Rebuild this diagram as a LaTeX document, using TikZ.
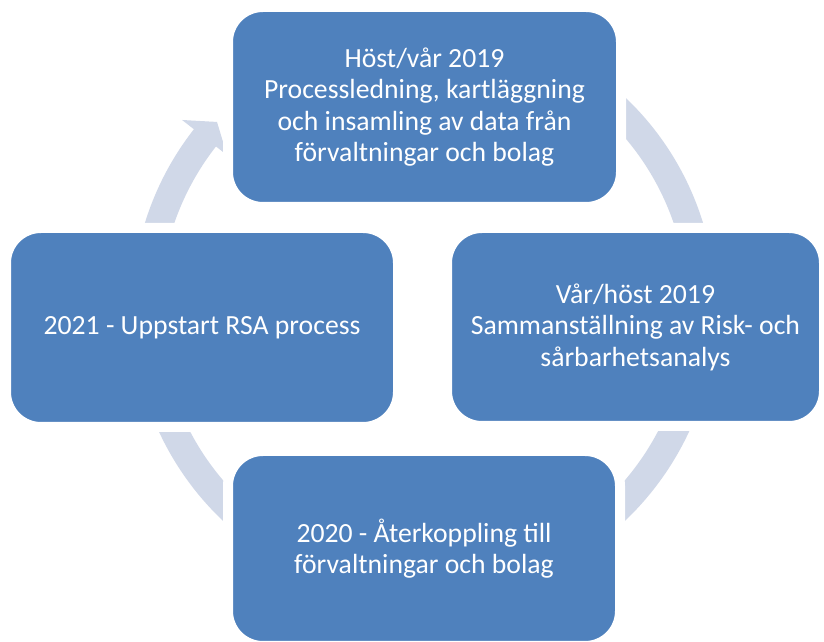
\documentclass[tikz,border=0pt]{standalone}
\usepackage{fontspec}
\setmainfont{Carlito}
\usetikzlibrary{calc}
\definecolor{boxblue}{HTML}{4F81BD}
\definecolor{ringcol}{HTML}{D0D8E8}
\tikzset{stagebox/.style={rectangle, rounded corners=35pt, fill=boxblue, draw=white, line width=10pt, text=white, align=center, inner sep=0pt, font=\fontsize{27.7}{31.5}\selectfont}}
\begin{document}
\begin{tikzpicture}[x=1pt,y=1pt]
\useasboundingbox (0,0) rectangle (824,642);
\fill[white] (0,0) rectangle (824,642);
\coordinate (c) at (424,333);
\draw[ringcol, line width=28pt] ($(c)+(141.5:278)$) arc[start angle=141.5,end angle=450,radius=278];
\fill[ringcol] ($(c)+(142:250)$) -- ($(c)+(142:307)$) -- ($(c)+(137.9:279)$) -- cycle;
\node[stagebox, minimum width=393pt, minimum height=200pt] (top) at (424.5,535) {Höst/vår 2019\\Processledning, kartläggning\\och insamling av data från\\förvaltningar och bolag};
\node[stagebox, minimum width=377pt, minimum height=198pt] (right) at (635.5,315) {Vår/höst 2019\\Sammanställning av Risk- och\\sårbarhetsanalys};
\node[stagebox, minimum width=392pt, minimum height=195pt] (bottom) at (424,93.5) {2020 - Återkoppling till\\förvaltningar och bolag};
\node[stagebox, minimum width=392pt, minimum height=199pt] (left) at (202,314.5) {2021 - Uppstart RSA process};
\end{tikzpicture}
\end{document}
